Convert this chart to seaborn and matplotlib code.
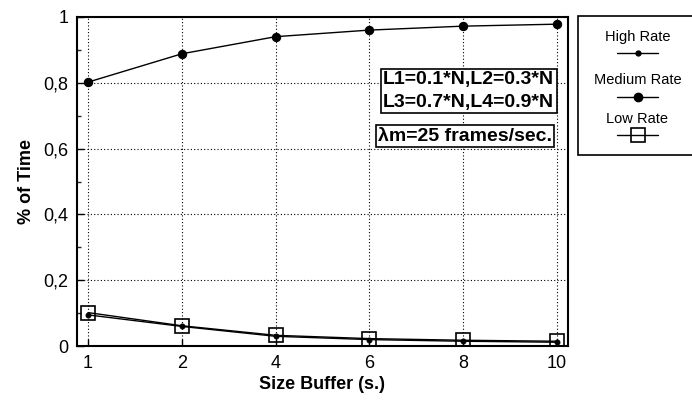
import matplotlib
matplotlib.use("Agg")
import matplotlib.pyplot as plt
import seaborn as sns
import pandas as pd
from matplotlib.lines import Line2D
from matplotlib.patches import Rectangle
from matplotlib.ticker import MultipleLocator, FuncFormatter

# Buffer sizes (s.) and fraction of time spent in each rate state
buffer_sizes = ["1", "2", "4", "6", "8", "10"]
high_rate = [0.095, 0.060, 0.030, 0.020, 0.015, 0.012]
medium_rate = [0.802, 0.888, 0.940, 0.960, 0.972, 0.978]
low_rate = [0.102, 0.062, 0.033, 0.023, 0.018, 0.015]
series_names = ["High Rate", "Medium Rate", "Low Rate"]

sns.set_theme(style="white")
plt.rcParams["font.family"] = ["Liberation Sans", "DejaVu Sans"]
plt.rcParams["text.color"] = "black"
plt.rcParams["axes.labelcolor"] = "black"

df = pd.DataFrame({
    "buffer": buffer_sizes * 3,
    "value": high_rate + medium_rate + low_rate,
    "series": [n for n in series_names for _ in buffer_sizes],
})

fig = plt.figure(figsize=(6.92, 4.03), dpi=100)
ax = fig.add_axes([0.111, 0.141, 0.710, 0.817])

styles = {
    "High Rate": dict(marker="o", markersize=3.5, markerfacecolor="black", markeredgecolor="black"),
    "Medium Rate": dict(marker="o", markersize=6, markerfacecolor="black", markeredgecolor="black"),
    "Low Rate": dict(marker="s", markersize=9.5, markerfacecolor="none", markeredgecolor="black", markeredgewidth=1.2),
}
for name in ["Low Rate", "High Rate", "Medium Rate"]:
    sub = df[df["series"] == name]
    sns.lineplot(data=sub, x="buffer", y="value", ax=ax, color="black",
                 linewidth=1.0, sort=False, legend=False, **styles[name])

ax.set_xlim(-0.12, 5.12)
ax.set_ylim(0, 1)
ax.yaxis.set_major_locator(MultipleLocator(0.2))
ax.yaxis.set_minor_locator(MultipleLocator(0.1))
ax.yaxis.set_major_formatter(FuncFormatter(
    lambda v, p: "0" if abs(v) < 1e-9 else ("1" if abs(v - 1) < 1e-9 else f"{v:.1f}".replace(".", ","))))
ax.grid(True, which="major", linestyle=(0, (1, 2)), color="black", linewidth=0.8)
for s in ax.spines.values():
    s.set_color("black")
    s.set_linewidth(1.5)
ax.tick_params(axis="both", which="major", direction="in", length=5, width=1,
               labelsize=13, colors="black", pad=6, left=True, bottom=True)
ax.tick_params(axis="y", which="minor", direction="in", length=3, width=1, left=True)
ax.set_xlabel("Size Buffer (s.)", fontsize=13, fontweight="bold", labelpad=3)
ax.set_ylabel("% of Time", fontsize=13, fontweight="bold", labelpad=6)

box = dict(boxstyle="square,pad=0.12", facecolor="white", edgecolor="black", linewidth=1.2)
ax.text(4.06, 0.775, "L1=0.1*N,L2=0.3*N\nL3=0.7*N,L4=0.9*N", ha="center", va="center",
        fontsize=14, fontweight="bold", linespacing=1.45, bbox=box)
ax.text(4.02, 0.638, "λm=25 frames/sec.", ha="center", va="center",
        fontsize=14, fontweight="bold", bbox=box)

# Legend panel to the right of the plot: label above each sample line
L, T, W, H = 577, 15, 120, 140
lax = fig.add_axes([L / 692, 1 - (T + H) / 403, W / 692, H / 403])
lax.set_xlim(L, L + W)
lax.set_ylim(T + H, T)
lax.axis("off")
lax.add_patch(Rectangle((L + 0.5, T + 0.5), W + 5, H - 1, facecolor="white",
                        edgecolor="black", linewidth=1.2, clip_on=False))
rows = [(37, 53), (80, 97), (119, 135)]
for name, (ty, ly) in zip(series_names, rows):
    lax.text(637.5, ty, name, ha="center", va="center", fontsize=10.5)
    lax.add_line(Line2D([617, 637.5, 658], [ly, ly, ly], color="black", linewidth=1.0,
                        markevery=[1], **styles[name]))

fig.savefig("out.png", dpi=100)
